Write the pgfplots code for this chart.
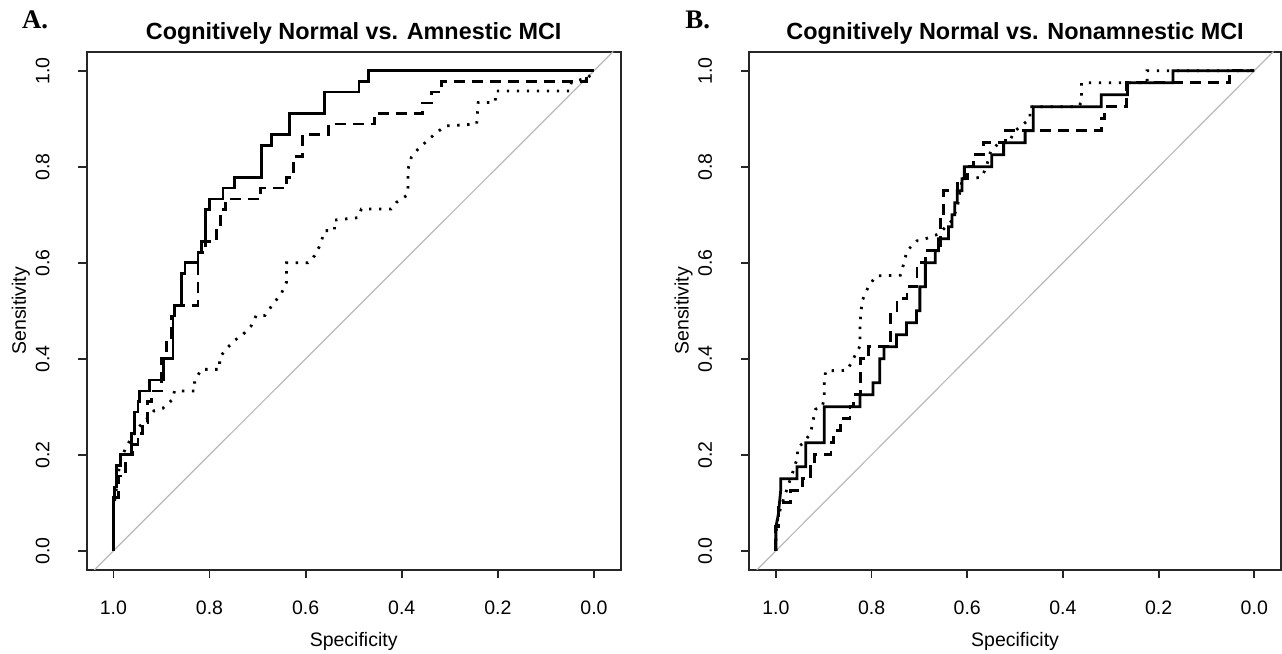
\documentclass[border=0pt]{standalone}
\usepackage{fontspec}
\setmainfont{Liberation Sans}
\newfontfamily\serifbold{Liberation Serif}
\usepackage{pgfplots}
\pgfplotsset{compat=1.18}

\pgfplotsset{roc/.style={
    scale only axis,
    width=267pt, height=259.2pt,
    xmin=-0.0556, xmax=1.0556, ymin=-0.04, ymax=1.04,
    x dir=reverse,
    xtick={0,0.2,0.4,0.6,0.8,1}, xticklabels={0.0,0.2,0.4,0.6,0.8,1.0},
    ytick={0,0.2,0.4,0.6,0.8,1}, yticklabels={0.0,0.2,0.4,0.6,0.8,1.0},
    tick align=outside, tick pos=left, major tick length=4.2pt,
    axis line style={line width=1pt, black!85},
    every tick/.style={black!85, line width=0.9pt},
    tick label style={font=\fontsize{9.75}{11}\selectfont},
    xticklabel style={anchor=north, inner sep=0pt, yshift=-10.8pt},
    yticklabel style={xshift=-14.5pt, rotate=90, anchor=base, inner sep=0pt},
    xlabel={Specificity}, ylabel={Sensitivity},
    label style={font=\fontsize{9.75}{11}\selectfont, inner sep=0pt},
    xlabel style={at={(axis description cs:0.5,-0.1466)}, anchor=base},
    ylabel style={at={(axis description cs:-0.1137,0.5)}, anchor=base, rotate=0},
    diag/.style={gray!55, line width=0.6pt},
    solid curve/.style={line width=1.4pt, black},
    dashed curve/.style={line width=1.4pt, black, dash pattern=on 5.5pt off 3.5pt},
    dotted curve/.style={line width=1.4pt, black, dash pattern=on 1.2pt off 3.8pt},
}}

\begin{document}
\begin{tikzpicture}
\path[use as bounding box] (0,0) rectangle (641pt,327pt);

% panel A
\begin{axis}[roc, at={(43.35pt,42pt)}, anchor=south west]
\addplot[diag] coordinates {(1.04,-0.04) (-0.04,1.04)};
% dotted
\addplot[dotted curve] coordinates {
(1.0,0) (1.0,0.09) (0.995,0.12) (0.99,0.16) (0.985,0.19) (0.974,0.215)
(0.96,0.24) (0.945,0.26) (0.925,0.281) (0.915,0.292) (0.897,0.297)
(0.876,0.316) (0.873,0.333) (0.831,0.333) (0.831,0.354) (0.817,0.378)
(0.779,0.378) (0.779,0.403) (0.762,0.424) (0.741,0.444) (0.73,0.451)
(0.713,0.469) (0.703,0.49) (0.685,0.49) (0.668,0.514) (0.651,0.535)
(0.640,0.559) (0.640,0.60) (0.595,0.60) (0.581,0.615) (0.571,0.635)
(0.560,0.667) (0.540,0.667) (0.540,0.689) (0.491,0.694) (0.484,0.712)
(0.422,0.712) (0.411,0.726) (0.39,0.74) (0.387,0.757) (0.387,0.795)
(0.38,0.82) (0.366,0.837) (0.335,0.865) (0.31,0.885) (0.244,0.889)
(0.241,0.934) (0.206,0.934) (0.203,0.958) (0.05,0.958) (0.047,0.976)
(0.012,0.986) (0,1.0)};
% dashed
\addplot[dashed curve] coordinates {
(1.0,0) (1.0,0.111) (0.99,0.111) (0.99,0.156) (0.975,0.156) (0.975,0.2)
(0.96,0.2) (0.96,0.222) (0.949,0.222) (0.949,0.244) (0.94,0.244)
(0.94,0.267) (0.929,0.267) (0.929,0.311) (0.921,0.311) (0.921,0.333)
(0.90,0.333) (0.90,0.40) (0.89,0.40) (0.89,0.444) (0.88,0.444)
(0.88,0.489) (0.873,0.489) (0.873,0.511) (0.824,0.511) (0.824,0.622)
(0.808,0.622) (0.808,0.644) (0.786,0.644) (0.786,0.667) (0.777,0.667)
(0.777,0.711) (0.767,0.711) (0.767,0.733) (0.694,0.733) (0.694,0.756)
(0.640,0.756) (0.640,0.778) (0.626,0.778) (0.626,0.822) (0.606,0.822)
(0.606,0.867) (0.553,0.867) (0.553,0.889) (0.456,0.889) (0.456,0.911)
(0.356,0.911) (0.356,0.933) (0.338,0.933) (0.338,0.956) (0.317,0.956)
(0.317,0.978) (0.015,0.978) (0.015,1.0) (0,1.0)};
% solid
\addplot[solid curve] coordinates {
(1.0,0) (1.0,0.111) (0.998,0.111) (0.998,0.133) (0.994,0.133) (0.994,0.178)
(0.985,0.178) (0.985,0.2) (0.963,0.2) (0.963,0.244) (0.956,0.244)
(0.956,0.289) (0.949,0.289) (0.949,0.311) (0.946,0.311) (0.946,0.333)
(0.925,0.333) (0.925,0.356) (0.895,0.356) (0.895,0.4) (0.876,0.4)
(0.876,0.489) (0.873,0.489) (0.873,0.511) (0.858,0.511) (0.858,0.578)
(0.851,0.578) (0.851,0.6) (0.824,0.6) (0.824,0.622) (0.817,0.622)
(0.817,0.644) (0.808,0.644) (0.808,0.711) (0.80,0.711) (0.80,0.733)
(0.772,0.733) (0.772,0.756) (0.748,0.756) (0.748,0.778) (0.692,0.778)
(0.692,0.844) (0.671,0.844) (0.671,0.867) (0.633,0.867) (0.633,0.911)
(0.560,0.911) (0.560,0.956) (0.489,0.956) (0.489,0.978) (0.470,0.978)
(0.470,1.0) (0,1.0)};
\end{axis}

% panel B
\begin{axis}[roc, width=265.8pt, at={(374.65pt,42pt)}, anchor=south west,
  ylabel style={at={(axis description cs:-0.1142,0.5)}, anchor=base}]
\addplot[diag] coordinates {(1.04,-0.04) (-0.04,1.04)};
% dotted
\addplot[dotted curve] coordinates {
(1.0,0) (1.0,0.035) (0.997,0.0625) (0.99,0.09) (0.965,0.163) (0.955,0.194)
(0.955,0.215) (0.941,0.226) (0.927,0.246) (0.924,0.264) (0.917,0.295)
(0.903,0.30) (0.899,0.319) (0.899,0.347) (0.896,0.375) (0.851,0.376)
(0.84,0.396) (0.833,0.41) (0.824,0.427) (0.824,0.476) (0.82,0.52)
(0.806,0.552) (0.79,0.573) (0.74,0.574) (0.733,0.597) (0.726,0.625)
(0.705,0.646) (0.698,0.646) (0.66,0.66) (0.63,0.69) (0.62,0.72)
(0.615,0.75) (0.61,0.775) (0.57,0.778) (0.56,0.80) (0.551,0.833)
(0.531,0.852) (0.514,0.85) (0.50,0.875) (0.469,0.90) (0.469,0.925)
(0.368,0.925) (0.361,0.935) (0.361,0.975) (0.274,0.975) (0.224,0.975)
(0.224,1.0) (0,1.0)};
% dashed
\addplot[dashed curve] coordinates {
(1.0,0) (1.0,0.05) (0.995,0.05) (0.995,0.10) (0.97,0.10) (0.97,0.125)
(0.945,0.125) (0.945,0.15) (0.927,0.15) (0.927,0.175) (0.92,0.175)
(0.92,0.20) (0.885,0.20) (0.885,0.225) (0.879,0.225) (0.879,0.25)
(0.865,0.25) (0.865,0.275) (0.845,0.275) (0.845,0.30) (0.837,0.30)
(0.837,0.325) (0.823,0.325) (0.823,0.40) (0.806,0.40) (0.806,0.425)
(0.76,0.425) (0.76,0.50) (0.747,0.50) (0.747,0.525) (0.726,0.525)
(0.726,0.55) (0.705,0.55) (0.705,0.60) (0.6875,0.60) (0.6875,0.625)
(0.656,0.625) (0.656,0.70) (0.649,0.70) (0.649,0.75) (0.62,0.75)
(0.62,0.775) (0.60,0.775) (0.60,0.80) (0.587,0.80) (0.587,0.825)
(0.566,0.825) (0.566,0.85) (0.52,0.85) (0.52,0.875) (0.32,0.875)
(0.32,0.90) (0.3125,0.90) (0.3125,0.925) (0.267,0.925) (0.267,0.975)
(0.052,0.975) (0.052,1.0) (0,1.0)};
% solid
\addplot[solid curve] coordinates {
(1.0,0) (1.0,0.05) (0.995,0.075) (0.99,0.125) (0.99,0.15) (0.956,0.15)
(0.956,0.175) (0.9375,0.175) (0.9375,0.225) (0.899,0.225) (0.899,0.30)
(0.824,0.30) (0.824,0.325) (0.797,0.325) (0.797,0.35) (0.783,0.35)
(0.783,0.40) (0.774,0.40) (0.774,0.425) (0.748,0.425) (0.748,0.45)
(0.727,0.45) (0.727,0.475) (0.706,0.475) (0.706,0.50) (0.699,0.50)
(0.699,0.55) (0.6875,0.55) (0.6875,0.60) (0.667,0.60) (0.667,0.625)
(0.660,0.625) (0.660,0.65) (0.639,0.65) (0.639,0.675) (0.632,0.675)
(0.632,0.70) (0.626,0.70) (0.626,0.725) (0.621,0.725) (0.621,0.75)
(0.611,0.75) (0.611,0.775) (0.606,0.775) (0.606,0.80) (0.549,0.80)
(0.549,0.825) (0.524,0.825) (0.524,0.85) (0.479,0.85) (0.479,0.875)
(0.462,0.875) (0.462,0.925) (0.320,0.925) (0.320,0.95) (0.265,0.95)
(0.265,0.975) (0.170,0.975) (0.170,1.0) (0,1.0)};
\end{axis}

% titles and panel letters
\node[anchor=base, inner sep=0pt, font=\bfseries\fontsize{11.7}{13}\selectfont]
  at (176.85pt,307.25pt) {Cognitively Normal vs. Amnestic MCI};
\node[anchor=base, inner sep=0pt, font=\bfseries\fontsize{11.7}{13}\selectfont]
  at (507.55pt,307.25pt) {Cognitively Normal vs. Nonamnestic MCI};
\node[anchor=base west, inner sep=0pt, font=\serifbold\bfseries\fontsize{13.4}{15}\selectfont]
  at (10.85pt,312.85pt) {A.};
\node[anchor=base west, inner sep=0pt, font=\serifbold\bfseries\fontsize{13.4}{15}\selectfont]
  at (342.5pt,312.85pt) {B.};
\end{tikzpicture}
\end{document}
